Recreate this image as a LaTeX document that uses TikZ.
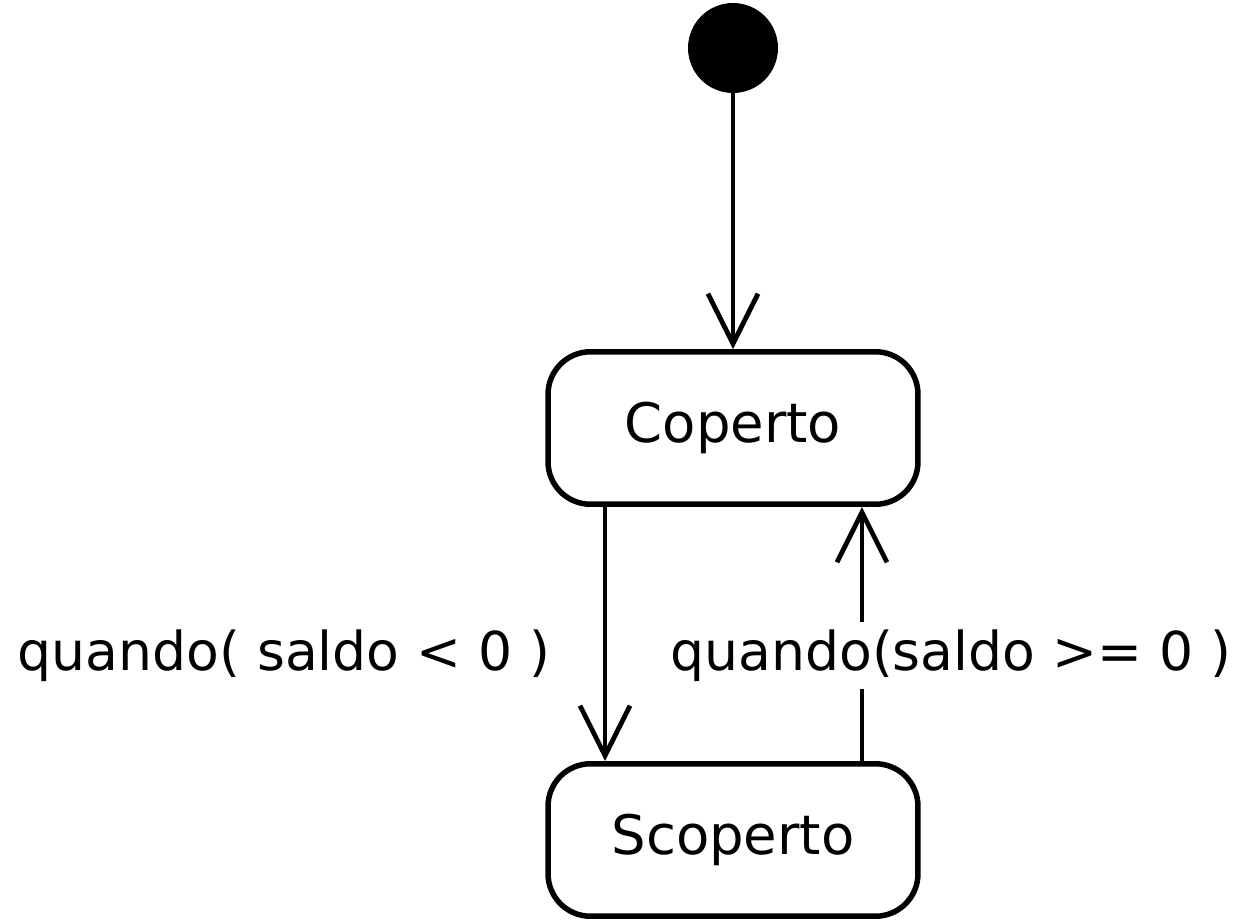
\documentclass[tikz,border=0pt]{standalone}
\usepackage{fontspec}
\setmainfont{DejaVu Sans}
\usetikzlibrary{arrows.meta}

\begin{document}
\begin{tikzpicture}[x=0.02cm, y=-0.02cm,
    state/.style={draw, line width=0.11cm, rounded corners=0.85cm, minimum width=7.4cm,
      minimum height=3.05cm, font=\fontsize{31}{36}\selectfont},
    trans/.style={line width=0.095cm, -{Straight Barb[length=1cm, width=1.0cm]}},
    guard/.style={inner sep=0.15cm, fill=white, font=\fontsize{30.5}{36}\selectfont}]
    \useasboundingbox (0,0) rectangle (1238,920);
    \node[circle, fill=black, minimum size=1.8cm, inner sep=0] (start) at (733,48) {};
    \node[state] (coperto) at (733,428) {Coperto};
    \node[state] (scoperto) at (733,840) {Scoperto};
    \draw[trans] (start) -- (coperto);
    \draw[trans] ([xshift=-2.56cm]coperto.south) -- ([xshift=-2.56cm]scoperto.north);
    \draw[trans] ([xshift=2.58cm]scoperto.north) -- ([xshift=2.58cm]coperto.south);
    % guards
    \node[guard, anchor=base east, inner sep=0] (lo) at (551,670) {quando( saldo < 0 )};
    \node[guard, anchor=base west, xshift=-0.15cm] (hi) at (670,670) {quando(saldo >= 0 )};
\end{tikzpicture}
\end{document}
